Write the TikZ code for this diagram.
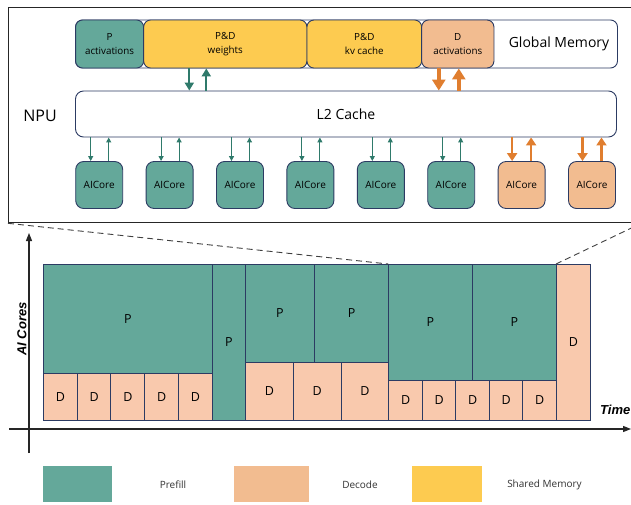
\documentclass[tikz,border=0pt]{standalone}
\usepackage{fontspec}
\setmainfont{Open Sans}
\newfontfamily\axisfont{Liberation Sans}
\usetikzlibrary{arrows.meta}
\definecolor{prefill}{HTML}{64A89A}
\definecolor{decode}{HTML}{F9C9AD}
\definecolor{decodeb}{HTML}{F2BC90}
\definecolor{shared}{HTML}{FDCB50}
\definecolor{navy}{HTML}{2C3B63}
\definecolor{garr}{HTML}{2F7A6B}
\definecolor{oarr}{HTML}{E07E2F}

\begin{document}
\begin{tikzpicture}[x=1pt,y=-1pt,
  mem/.style={draw=navy,line width=0.9pt,rounded corners=7pt,inner sep=0pt,
    minimum height=48pt,align=center,font=\fontsize{9.8}{14}\selectfont},
  core/.style={draw=navy,line width=0.9pt,rounded corners=8pt,inner sep=0pt,
    minimum width=47pt,minimum height=47pt,font=\fontsize{10}{12}\selectfont},
  blk/.style={draw=navy,line width=1pt,inner sep=0pt,anchor=north west,
    font=\fontsize{12.5}{14}\selectfont},
  lgd/.style={inner sep=0pt,anchor=north west,minimum height=36pt},
  lgdtxt/.style={text=black!80,font=\fontsize{10}{12}\selectfont},
  garrow/.style={draw=garr,line width=1.1pt,-{Triangle[width=5pt,length=5pt]}},
  oarrow/.style={draw=oarr,line width=2.6pt,-{Triangle[width=10pt,length=8pt]}},
  gbig/.style={draw=garr,line width=2pt,-{Triangle[width=9pt,length=8pt]}},
  obig/.style={draw=oarr,line width=3.5pt,-{Triangle[width=13pt,length=11pt]}},
  axis/.style={draw=black!85,line width=1.2pt,-{Triangle[width=6pt,length=8pt]}}]
\useasboundingbox[fill=white] (0,0) rectangle (631,504);

% NPU frame
\node[draw=black!85,line width=1.3pt,inner sep=0pt,anchor=north west,
  minimum width=632pt,minimum height=215pt] (frame) at (8,7) {};
\node[font=\fontsize{16}{18}\selectfont] (npu) at (40,116) {NPU};

% global memory
\node[mem,fill=white,minimum width=542pt] (gm) at (346.5,44) {};
\node[font=\fontsize{14}{16}\selectfont] (gmtxt) at (559,44) {Global Memory};
\node[mem,fill=prefill,minimum width=68pt] (pact) at (109.6,44) {P\\activations};
\node[mem,fill=shared,minimum width=163.3pt] (pdw) at (225.3,44) {P\&D\\weights};
\node[mem,fill=shared,minimum width=114.7pt] (pdkv) at (364.3,44) {P\&D\\kv cache};
\node[mem,fill=decodeb,minimum width=72.3pt] (dact) at (457.8,44) {D\\activations};

% L2
\node[draw=navy,line width=0.9pt,rounded corners=8pt,minimum width=541pt,
  minimum height=46pt,font=\fontsize{14}{16}\selectfont] (l2) at (346,114) {L2 Cache};

\draw[gbig] ([xshift=-36pt]pdw.south) -- ([xshift=-36pt]pdw.south |- l2.north);
\draw[gbig] ([xshift=-19pt]pdw.south |- l2.north) -- ([xshift=-19pt]pdw.south);
\draw[obig] ([xshift=-19pt]dact.south) -- ([xshift=-19pt]dact.south |- l2.north);
\draw[obig] ([xshift=1pt]dact.south |- l2.north) -- ([xshift=1pt]dact.south);

% cores
\foreach \i in {1,...,6} {
  \node[core,fill=prefill] (c\i) at ({99.2+70.4*(\i-1)},185) {AICore};
  \draw[garrow] ([xshift=-8.5pt]c\i.north |- l2.south) -- ([xshift=-8.5pt]c\i.north);
  \draw[garrow] ([xshift=9.5pt]c\i.north) -- ([xshift=9.5pt]c\i.north |- l2.south);
}
\foreach \i in {7,8} {
  \node[core,fill=decodeb] (c\i) at ({99.2+70.4*(\i-1)},185) {AICore};
  \draw[oarrow] ([xshift=-9.5pt]c\i.north |- l2.south) -- ([xshift=-9.5pt]c\i.north);
  \draw[oarrow] ([xshift=9.5pt]c\i.north) -- ([xshift=9.5pt]c\i.north |- l2.south);
}

% axes
\coordinate (yb) at (29,453);
\coordinate (yt) at (29,233);
\coordinate (xl) at (9,429);
\coordinate (xr) at (631,429);
\draw[axis] (yb) -- (yt);
\draw[axis] (xl) -- (xr);
\node[rotate=90,font=\axisfont\bfseries\itshape\fontsize{13}{15}\selectfont] (ylab) at (22,329) {AI Cores};
\node[anchor=west,inner sep=0pt,font=\axisfont\bfseries\itshape\fontsize{13}{15}\selectfont] (xlab) at (600,410) {Time};

% schedule
\node[blk,fill=prefill,minimum width=168.7pt,minimum height=109.3pt] (p1) at (43,264) {P};
\foreach \i in {1,...,5}
  \node[blk,fill=decode,minimum width=33.74pt,minimum height=46.7pt] (d\i) at ({43+33.74*(\i-1)},373.3) {D};
\node[blk,fill=prefill,minimum width=33.3pt,minimum height=156pt] (p2) at (211.7,264) {P};
\node[blk,fill=prefill,minimum width=69pt,minimum height=97.7pt] (p3) at (245,264) {P};
\node[blk,fill=prefill,minimum width=74.3pt,minimum height=97.7pt] (p4) at (314,264) {P};
\foreach \i in {6,7,8}
  \node[blk,fill=decode,minimum width=47.77pt,minimum height=58.3pt] (d\i) at ({245+47.77*(\i-6)},361.7) {D};
\node[blk,fill=prefill,minimum width=83.3pt,minimum height=116pt] (p5) at (388.3,264) {P};
\node[blk,fill=prefill,minimum width=84.4pt,minimum height=116pt] (p6) at (471.6,264) {P};
\foreach \i in {9,...,13}
  \node[blk,fill=decode,minimum width=33.54pt,minimum height=40pt] (d\i) at ({388.3+33.54*(\i-9)},380) {D};
\node[blk,fill=decode,minimum width=34pt,minimum height=156pt] (d14) at (556,264) {D};

% zoom lines
\draw[black!75,line width=0.9pt,dash pattern=on 6pt off 4pt] (frame.south west) -- (p5.north west);
\draw[black!75,line width=0.9pt,dash pattern=on 6pt off 4pt] (d14.north west) -- (frame.south east);

% legend
\node[lgd,fill=prefill,minimum width=69pt] (lg1) at (43,466) {};
\node[lgdtxt] (lt1) at (173,485) {Prefill};
\node[lgd,fill=decodeb,minimum width=75.3pt] (lg2) at (233.4,466) {};
\node[lgdtxt] (lt2) at (360,485) {Decode};
\node[lgd,fill=shared,minimum width=69.7pt] (lg3) at (412,466) {};
\node[lgdtxt] (lt3) at (544.5,485) {Shared Memory};
\end{tikzpicture}
\end{document}
